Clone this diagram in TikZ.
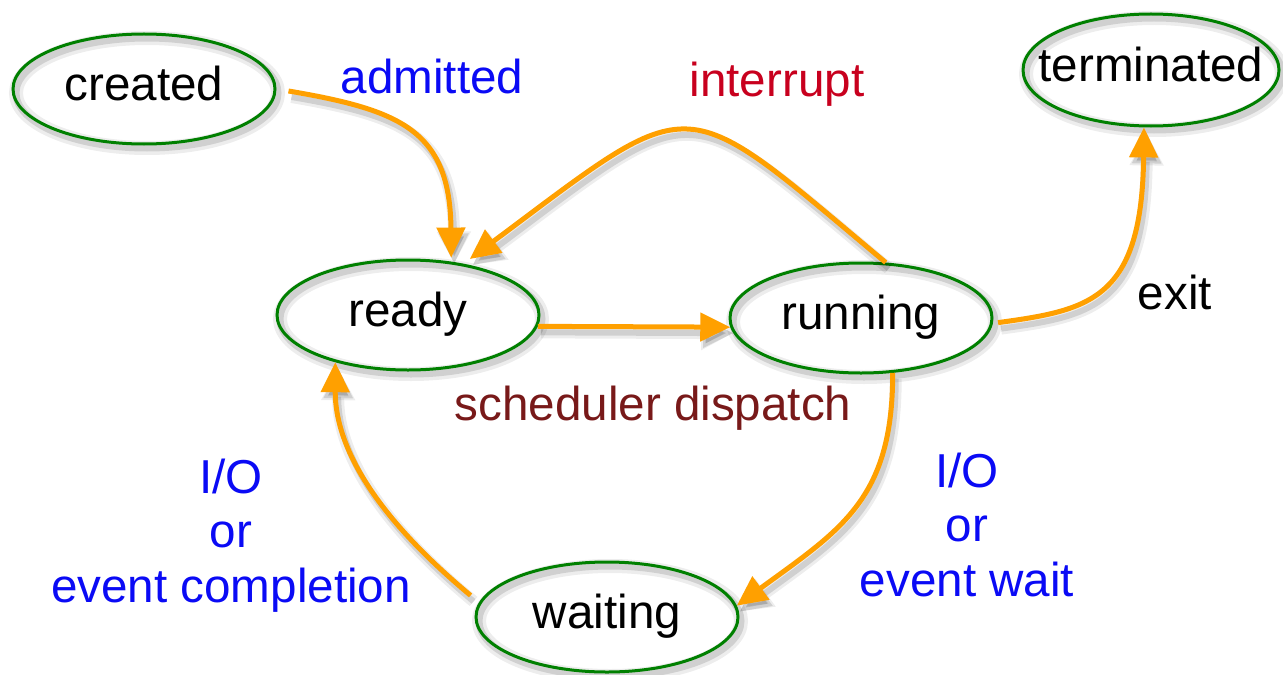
\documentclass[tikz,border=0pt]{standalone}
\usepackage{fontspec}
\setmainfont{Liberation Sans}
\usetikzlibrary{shapes.geometric,arrows.meta}
\definecolor{stategreen}{RGB}{0,128,0}
\definecolor{arroworange}{RGB}{255,160,0}
\definecolor{labelblue}{RGB}{10,10,245}
\definecolor{labelred}{RGB}{200,0,30}
\definecolor{labelmaroon}{RGB}{120,25,25}
\newcommand\lblfont{\fontsize{23.8pt}{27.2pt}\selectfont}
\tikzset{
  state/.style={ellipse, draw=stategreen, line width=1.5pt,
    minimum width=131pt, minimum height=55pt, inner sep=0pt, inner xsep=-30pt,
    font=\lblfont, text height=17.8pt, text depth=6pt,
    preaction={draw=black, opacity=0.07, line width=7pt, transform canvas={shift={(1.5pt,-2pt)}}},
    preaction={draw=black, opacity=0.12, line width=3.5pt, transform canvas={shift={(1.5pt,-2pt)}}}},
  conn/.style={draw=arroworange, line width=2.5pt, -{Triangle[length=15pt,width=14pt]}},
  connshadowA/.style={draw=black, opacity=0.07, line width=6pt, -{Triangle[length=16pt,width=16pt]}},
  connshadowB/.style={draw=black, opacity=0.12, line width=3pt, -{Triangle[length=15pt,width=14pt]}},
  lbl/.style={font=\lblfont, anchor=base, align=center, inner sep=0pt},
}
\newcommand\connector[1]{%
  \begin{scope}[transform canvas={shift={(1.5pt,-3pt)}}]
    \path[connshadowA] #1;
    \path[connshadowB] #1;
  \end{scope}
  \path[conn] #1;}
\begin{document}
\begin{tikzpicture}[x=0.5pt,y=-0.5pt]
\useasboundingbox (0,0) rectangle (1283,674);
\node[state] (created) at (144,89) {created};
\node[state, minimum width=128pt, minimum height=56pt] (terminated) at (1151,70) {terminated};
\node[state] (ready) at (408,315) {ready};
\node[state] (running) at (861,318) {running};
\node[state] (waiting) at (607,617) {waiting};

\connector{([shift={(12,2)}]created.east) .. controls (400,110) and (450,130) .. ([shift={(0,-4)}]ready.51)}
\connector{(running.66) .. controls (677,88) and (699,88) .. ([shift={(0,-6)}]ready.39)}
\connector{(ready.-5) -- (running.184)}
\connector{([shift={(5,0)}]running.-2) .. controls (1090,310) and (1142,300) .. (terminated.263)}
\connector{(running.-60) .. controls (893,500) and (840,530) .. (waiting.5)}
\connector{([shift={(-14,0)}]waiting.170) .. controls (380,520) and (335,450) .. (ready.213)}

\node[lbl, text=labelblue] (admitted) at (432,94) {admitted};
\node[lbl, text=labelred] (interrupt) at (777,97) {interrupt};
\node[lbl, text=labelmaroon] (dispatch) at (653,420) {scheduler dispatch};
\node[lbl] (exit) at (1175,309) {exit};
\node[lbl, text=labelblue] (iocomp) at (231,602) {I/O\\or\\event completion};
\node[lbl, text=labelblue] (iowait) at (967,596) {I/O\\or\\event wait};
\end{tikzpicture}
\end{document}
